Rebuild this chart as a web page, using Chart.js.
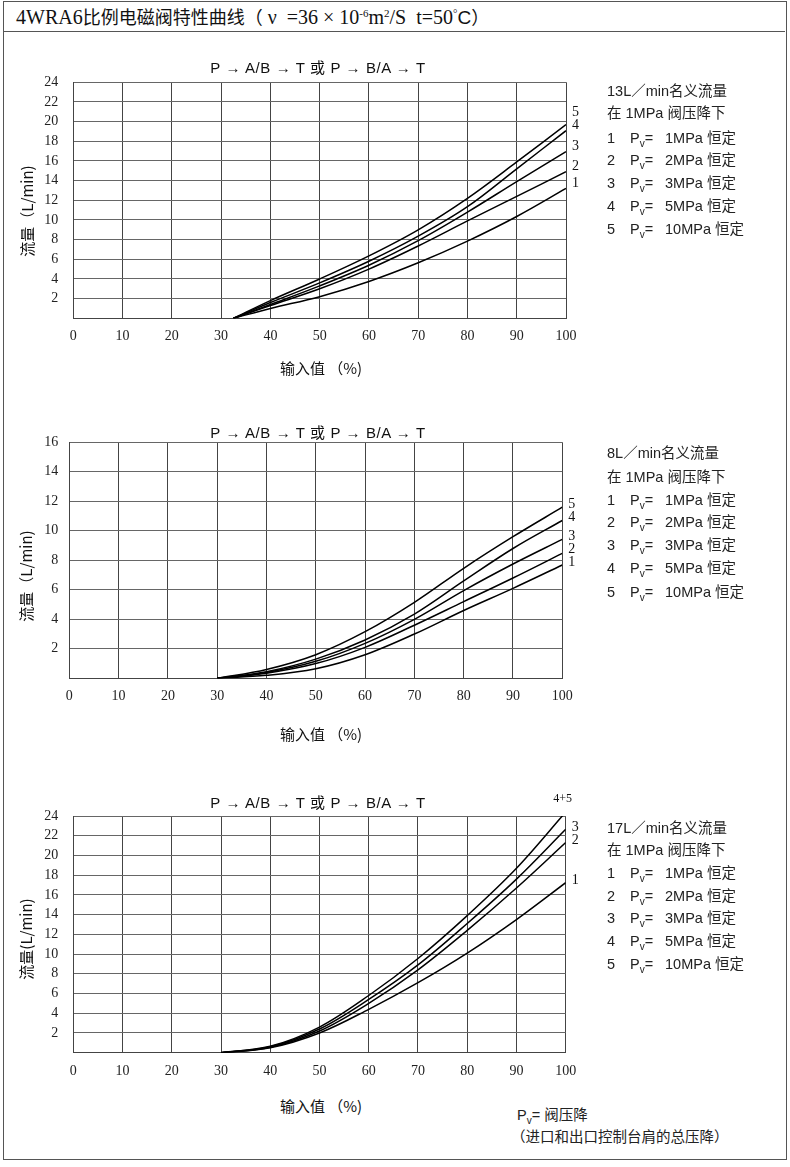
<!DOCTYPE html>
<html><head><meta charset="utf-8">
<script src="https://cdn.jsdelivr.net/npm/chart.js@4/dist/chart.umd.min.js"></script>
<style>
html,body{margin:0;padding:0;background:#fff}
body{width:790px;height:1167px;position:relative;overflow:hidden;font-family:"Liberation Sans","Noto Sans CJK SC",sans-serif;color:#111}
.t{position:absolute;white-space:nowrap;transform:translateY(-50%);line-height:1}
.c{transform:translate(-50%,-50%)}
.cjk{font-family:"Noto Sans CJK SC",sans-serif}
.serif{font-family:"Liberation Serif",serif}
canvas{position:absolute;left:0}
#frame{position:absolute;left:3px;top:1px;width:782px;height:1157px;border:1.5px solid #555}
#hdr{position:absolute;left:3px;top:1px;width:782px;height:30px;border-bottom:1.5px solid #555}
.leg{font-size:14.5px;color:#222}
sub{font-size:10px;vertical-align:-4px;line-height:0}
sup{font-size:11px;vertical-align:7px;line-height:0}
</style>
</head>
<body>
<div id="frame"></div>
<div id="hdr"></div>
<div class="t" style="left:16px;top:17px;font-size:18px"><span class="serif" style="font-size:20px">4WRA6</span><span class="cjk">比例电磁阀特性曲线（</span><span class="serif" style="font-size:20px"> ν&nbsp;&nbsp;=36 × 10<sup>-6</sup>m<sup>2</sup>/S&nbsp;&nbsp;t=50<sup>°</sup></span><span style="font-size:19px">C</span><span class="cjk">）</span></div>

<canvas id="c1"></canvas>
<canvas id="c2"></canvas>
<canvas id="c3"></canvas>
<div id="texts"></div>

<script>
// ---------- data ----------
const chartTitle = "P → A/B → T 或 P → B/A → T";
const xAxisTitle = "输入值 （%)";
const legendHeads = ["13L／min名义流量", "8L／min名义流量", "17L／min名义流量"];
const legendSub = "在 1MPa 阀压降下";
const legendNums = ["1", "2", "3", "4", "5"];
const legendPressures = ["1MPa", "2MPa", "3MPa", "5MPa", "10MPa"];
const yTitles = ["流量（L/min)", "流量（L/min)", "流量(L/min)"];

// chart 1 (13 L/min)
const c1X  = [32.5, 40, 50, 60, 70, 80, 90, 100];
const c1S1 = [0, 1.0, 2.2, 3.75, 5.65, 7.85, 10.35, 13.2];
const c1S2 = [0, 1.3, 3.0, 5.0, 7.35, 9.9, 12.4, 14.9];
const c1S3 = [0, 1.4, 3.3, 5.4, 7.9, 10.8, 13.9, 16.95];
const c1S4 = [0, 1.6, 3.6, 5.8, 8.35, 11.35, 15.2, 19.08];
const c1S5 = [0, 1.8, 4.0, 6.35, 9.0, 12.2, 15.9, 19.7];
const c1Labels = ["1", "2", "3", "4", "5"];

// chart 2 (8 L/min)
const c2X  = [30, 40, 50, 60, 70, 80, 90, 100];
const c2S1 = [0, 0.2, 0.65, 1.6, 3.0, 4.6, 6.1, 7.68];
const c2S2 = [0, 0.35, 1.0, 2.1, 3.6, 5.2, 6.8, 8.47];
const c2S3 = [0, 0.4, 1.15, 2.37, 4.0, 5.95, 7.75, 9.42];
const c2S4 = [0, 0.45, 1.3, 2.6, 4.35, 6.6, 8.8, 10.7];
const c2S5 = [0, 0.6, 1.6, 3.16, 5.15, 7.46, 9.6, 11.6];
const c2Labels = ["1", "2", "3", "4", "5"];

// chart 3 (17 L/min)
const c3X   = [30, 40, 50, 60, 70, 80, 90, 100];
const c3S1  = [0, 0.5, 2.0, 4.4, 7.1, 10.1, 13.5, 17.24];
const c3S2  = [0, 0.55, 2.2, 5.0, 8.4, 12.4, 16.7, 21.3];
const c3S3  = [0, 0.6, 2.4, 5.4, 8.9, 13.1, 17.6, 22.65];
const c3S45 = [0, 0.65, 2.6, 5.8, 9.55, 13.9, 18.7, 24.4];
const c3Labels = ["1", "2", "3", "4+5"];

const yMax = [24, 16, 24];
const xTickStep = 10, yTickStep = 2;

// ---------- drawing ----------
const pts = (xs, ys) => xs.map((x, i) => ({x, y: ys[i]}));

const endLabels = {
  id: 'endLabels',
  afterDatasetsDraw(chart, args, opts) {
    const {ctx, chartArea, scales: {x, y}} = chart;
    ctx.save();
    ctx.fillStyle = '#111';
    ctx.textBaseline = 'middle';
    let prev = Infinity;
    chart.data.datasets.forEach(ds => {
      const p = ds.data[ds.data.length - 1];
      const py = y.getPixelForValue(p.y);
      if (py < chartArea.top) {
        ctx.textAlign = 'center';
        ctx.font = '12px "Liberation Serif", serif';
        ctx.fillText(ds.label, chartArea.right - 3, chartArea.top - 17);
        return;
      }
      ctx.font = '14px "Liberation Serif", serif';
      const ly = Math.min(py - opts.offset, prev - 13);
      ctx.textAlign = 'left';
      ctx.fillText(ds.label, chartArea.right + 6, ly);
      prev = ly;
    });
    ctx.restore();
  }
};

function makeChart(id, top, height, area, xs, series, labels, ymax, ypad, offset) {
  const cv = document.getElementById(id);
  cv.style.top = top + 'px';
  cv.width = 790; cv.height = height;
  cv.style.width = '790px'; cv.style.height = height + 'px';
  const yW = 30, xH = 30;
  const tickFont = {family: '"Liberation Serif", serif', size: 14};
  new Chart(cv, {
    type: 'line',
    data: {
      datasets: series.map((s, i) => ({
        label: labels[i], data: pts(xs, s), borderColor: '#000', borderWidth: 1.5,
        pointRadius: 0, fill: false, tension: 0.35
      }))
    },
    plugins: [endLabels],
    options: {
      responsive: false, animation: false, events: [],
      layout: {padding: {left: area.left - yW, right: 790 - area.right, top: area.top - top, bottom: top + height - area.bottom - xH}},
      plugins: {legend: {display: false}, tooltip: {enabled: false}, endLabels: {offset}},
      scales: {
        x: {type: 'linear', min: 0, max: 100, afterFit(s) { s.height = xH; },
            ticks: {stepSize: xTickStep, padding: 10, font: tickFont, color: '#222', maxRotation: 0, autoSkip: false},
            grid: {color: '#444', lineWidth: 1, drawTicks: false}, border: {color: '#444', width: 1}},
        y: {type: 'linear', min: 0, max: ymax, afterFit(s) { s.width = yW; },
            ticks: {stepSize: yTickStep, padding: ypad, font: tickFont, color: '#222', autoSkip: false, callback: v => v === 0 ? '' : v},
            grid: {color: '#666', lineWidth: 1, drawTicks: false}, border: {color: '#444', width: 1}}
      }
    }
  });
}

makeChart('c1', 40, 320, {left: 73.3, right: 566, top: 82.3, bottom: 318.3}, c1X, [c1S1, c1S2, c1S3, c1S4, c1S5], c1Labels, yMax[0], 15, 5);
makeChart('c2', 410, 320, {left: 69.3, right: 562.3, top: 442.3, bottom: 678.3}, c2X, [c2S1, c2S2, c2S3, c2S4, c2S5], c2Labels, yMax[1], 11, 3);
makeChart('c3', 770, 320, {left: 73.3, right: 565.7, top: 816, bottom: 1052.7}, c3X, [c3S1, c3S2, c3S3, c3S45], c3Labels, yMax[2], 15, 2);

// ---------- texts ----------
const T = document.getElementById('texts');
function add(html, x, y, cls, style) {
  const d = document.createElement('div');
  d.className = 't ' + (cls || '');
  d.style.left = x + 'px'; d.style.top = y + 'px';
  if (style) d.style.cssText += style;
  d.innerHTML = html;
  T.appendChild(d);
}
const layouts = [
  {titleY: 67, xTitleY: 367, yTitle: [26, 211], legY: [91, 113, 138, 160, 183, 206, 229]},
  {titleY: 432, xTitleY: 733, yTitle: [25, 576], legY: [453, 477, 500, 522, 545, 568, 592]},
  {titleY: 802, xTitleY: 1105, yTitle: [25, 939], legY: [828, 850, 873, 896, 918, 941, 964]}
];
layouts.forEach((L, k) => {
  add(chartTitle, 318, L.titleY, 'c', 'font-size:15px;letter-spacing:0.6px');
  add(xAxisTitle, 321, L.xTitleY, 'c cjk', 'font-size:15px');
  add(yTitles[k], L.yTitle[0], L.yTitle[1], 'cjk', 'font-size:15px;transform:translate(-50%,-50%) rotate(-90deg)');
  add(legendHeads[k], 607, L.legY[0], 'leg');
  add(legendSub, 607, L.legY[1], 'leg');
  legendNums.forEach((n, i) => {
    add(n, 607, L.legY[i + 2], 'leg');
    add('P<sub>v</sub>=', 630, L.legY[i + 2], 'leg');
    add(legendPressures[i] + ' 恒定', 665, L.legY[i + 2], 'leg');
  });
});
add('P<sub>v</sub>= 阀压降', 517, 1115, 'leg');
add('（进口和出口控制台肩的总压降）', 511, 1137, 'leg');
</script>
</body></html>
